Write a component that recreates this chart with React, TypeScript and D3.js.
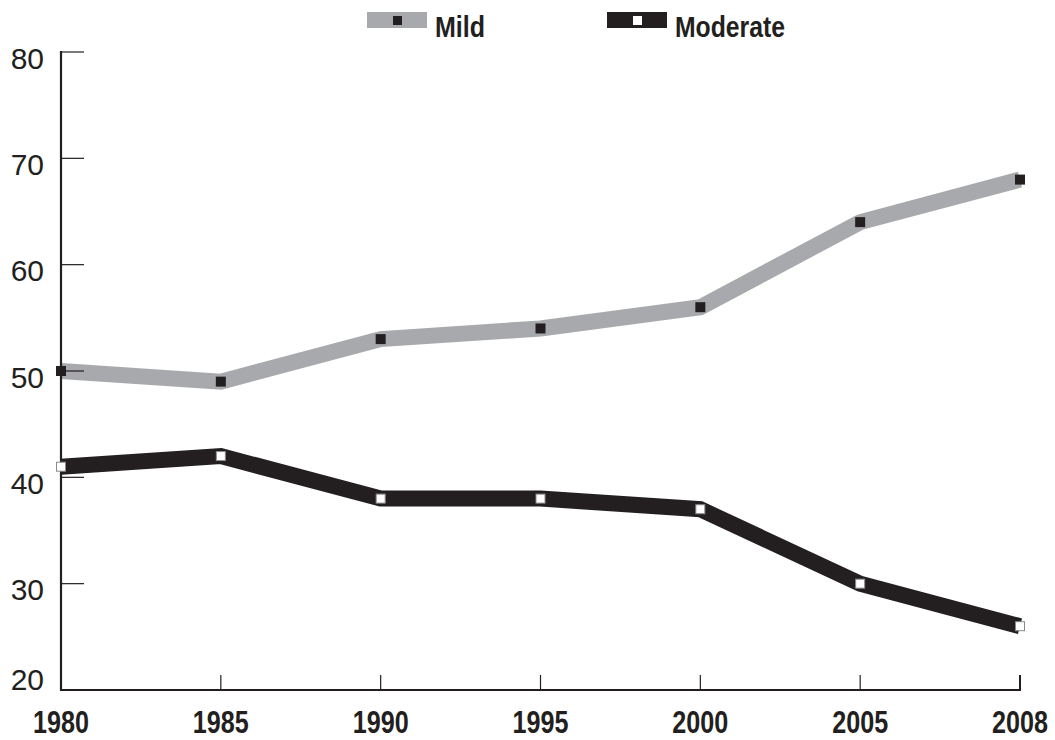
import * as d3 from "d3";

const years = ["1980", "1985", "1990", "1995", "2000", "2005", "2008"];
const mild = [50, 49, 53, 54, 56, 64, 68];
const moderate = [41, 42, 38, 38, 37, 30, 26];
const yTicks = [20, 30, 40, 50, 60, 70, 80];

const GRAY = "#a7a9ac";
const DARK = "#231f20";

export default function App() {
  const width = 1055;
  const height = 740;

  const x = d3.scalePoint<string>().domain(years).range([61, 1020]);
  const y = d3.scaleLinear().domain([20, 80]).range([690, 52]);

  const line = d3
    .line<number>()
    .x((_, i) => x(years[i]) ?? 0)
    .y((d) => y(d));

  // no narrow font installed, so squeeze the bold face with textLength
  const font = "'Liberation Sans', Arial, sans-serif";

  return (
    <svg
      width={width}
      height={height}
      style={{ position: "absolute", left: 0, top: 0, background: "#fff" }}
    >
      {/* legend */}
      <g>
        <rect x={367} y={12} width={60} height={16} fill={GRAY} />
        <rect x={393} y={16} width={9} height={9} fill={DARK} />
        <text
          x={435}
          y={37}
          fontFamily={font}
          fontWeight="bold"
          fontSize={30}
          fill={DARK}
          textLength={50}
          lengthAdjust="spacingAndGlyphs"
        >
          Mild
        </text>
        <rect x={607} y={12} width={60} height={16} fill={DARK} />
        <rect x={633} y={16} width={9} height={9} fill="#fff" />
        <text
          x={675}
          y={37}
          fontFamily={font}
          fontWeight="bold"
          fontSize={30}
          fill={DARK}
          textLength={110}
          lengthAdjust="spacingAndGlyphs"
        >
          Moderate
        </text>
      </g>

      {/* series lines */}
      <path
        d={line(mild) ?? ""}
        fill="none"
        stroke={GRAY}
        strokeWidth={16}
        strokeLinejoin="miter"
      />
      <path
        d={line(moderate) ?? ""}
        fill="none"
        stroke={DARK}
        strokeWidth={16}
        strokeLinejoin="miter"
      />

      {/* y axis */}
      <line x1={61} x2={61} y1={y(80) - 1} y2={y(20) + 1} stroke={DARK} strokeWidth={2.2} />
      {yTicks.map((t) => (
        <g key={t}>
          {t !== 20 && (
            <line x1={61} x2={84} y1={y(t)} y2={y(t)} stroke={DARK} strokeWidth={1.2} />
          )}
          <text
            x={44}
            y={t === 20 ? y(t) : y(t) + 16.5}
            textAnchor="end"
            fontFamily={font}
            fontSize={30}
            fill={DARK}
          >
            {t}
          </text>
        </g>
      ))}

      {/* x axis */}
      <line x1={60} x2={1021} y1={690} y2={690} stroke={DARK} strokeWidth={2.2} />
      {years.map((yr) => (
        <g key={yr}>
          {yr !== "1980" && (
            <line
              x1={x(yr)}
              x2={x(yr)}
              y1={690}
              y2={675}
              stroke={DARK}
              strokeWidth={yr === "2008" ? 2 : 1.2}
            />
          )}
          <text
            x={(x(yr) ?? 0) - 28}
            y={733}
            fontFamily={font}
            fontWeight="bold"
            fontSize={31}
            fill={DARK}
            textLength={56}
            lengthAdjust="spacingAndGlyphs"
          >
            {yr}
          </text>
        </g>
      ))}

      {/* markers */}
      {mild.map((v, i) => (
        <rect
          key={"m" + i}
          x={(x(years[i]) ?? 0) - 5}
          y={y(v) - 5}
          width={10}
          height={10}
          fill={DARK}
        />
      ))}
      {moderate.map((v, i) => (
        <rect
          key={"d" + i}
          x={(x(years[i]) ?? 0) - 4.5}
          y={y(v) - 4.5}
          width={9}
          height={9}
          fill="#fff"
          stroke="#8a8a8a"
          strokeWidth={1}
        />
      ))}
    </svg>
  );
}
